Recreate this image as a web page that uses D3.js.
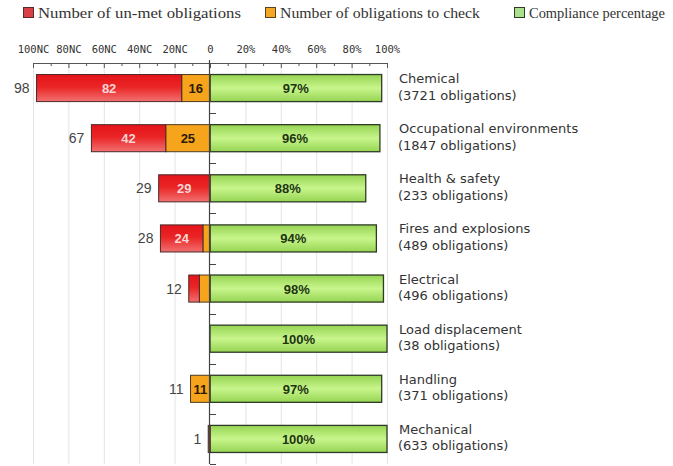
<!DOCTYPE html>
<html>
<head>
<meta charset="utf-8">
<script src="https://cdn.jsdelivr.net/npm/d3@7/dist/d3.min.js"></script>
<style>
html,body{margin:0;padding:0;background:#fff;}
svg{display:block;}
</style>
</head>
<body>
<svg id="chart" width="673" height="466"></svg>
<script>
const categories = ["Chemical", "Occupational environments", "Health & safety", "Fires and explosions", "Electrical", "Load displacement", "Handling", "Mechanical"];
const obligations = [3721, 1847, 233, 489, 496, 38, 371, 633];
const unmet = [82, 42, 29, 24, 6, 0, 0, 1];
const toCheck = [16, 25, 0, 4, 6, 0, 11, 0];
const compliance = [97, 96, 88, 94, 98, 100, 97, 100];
const tickValues = [-100, -80, -60, -40, -20, 0, 20, 40, 60, 80, 100];
const minorTicks = [-90, -70, -50, -30, -10, 10, 30, 50, 70, 90];
const legendLabels = ["Number of un-met obligations", "Number of obligations to check", "Compliance percentage"];

const svg = d3.select("#chart");
const topY = 63, bottomY = 464;

const x = d3.scaleLinear().domain([-100, 100]).range([33, 387]);
const y = d3.scaleBand().domain(categories).range([topY, bottomY]).paddingInner(0.46).paddingOuter(0.23);

const defs = svg.append("defs");
const gRed = defs.append("linearGradient").attr("id", "gRed").attr("x1", 0).attr("y1", 0).attr("x2", 0).attr("y2", 1);
gRed.append("stop").attr("offset", 0).attr("stop-color", "#e5141a");
gRed.append("stop").attr("offset", 0.45).attr("stop-color", "#ea2424");
gRed.append("stop").attr("offset", 1).attr("stop-color", "#f27070");
const gGreen = defs.append("linearGradient").attr("id", "gGreen").attr("x1", 0).attr("y1", 0).attr("x2", 0).attr("y2", 1);
gGreen.append("stop").attr("offset", 0).attr("stop-color", "#95d452");
gGreen.append("stop").attr("offset", 0.5).attr("stop-color", "#c8f58c");
gGreen.append("stop").attr("offset", 1).attr("stop-color", "#95d452");

// gridlines
svg.append("g").selectAll("line").data(tickValues.filter(d => d !== 0)).join("line")
  .attr("x1", d => x(d) + 0.5).attr("x2", d => x(d) + 0.5)
  .attr("y1", topY).attr("y2", bottomY)
  .attr("stroke", "#e4e4e4").attr("stroke-width", 1);

// top axis
const axisG = svg.append("g");
axisG.append("line").attr("x1", x(-100)).attr("x2", x(100) + 0.5).attr("y1", topY + 0.5).attr("y2", topY + 0.5)
  .attr("stroke", "#555");
axisG.selectAll("line.maj").data(tickValues).join("line").attr("class", "maj")
  .attr("x1", d => x(d) + 0.5).attr("x2", d => x(d) + 0.5)
  .attr("y1", topY).attr("y2", topY + 5).attr("stroke", "#555");
axisG.selectAll("line.min").data(minorTicks).join("line").attr("class", "min")
  .attr("x1", d => x(d) + 0.5).attr("x2", d => x(d) + 0.5)
  .attr("y1", topY).attr("y2", topY + 3).attr("stroke", "#555");
axisG.selectAll("text").data(tickValues).join("text")
  .attr("x", d => x(d) + 0.5).attr("y", 53)
  .attr("text-anchor", "middle")
  .attr("font-family", "DejaVu Sans Mono, monospace").attr("font-size", 10.5)
  .attr("fill", "#333")
  .text(d => d < 0 ? (-d) + "NC" : d === 0 ? "0" : d + "%");

const rows = categories.map((c, i) => ({
  cat: c, obl: obligations[i], unmet: unmet[i], check: toCheck[i], pct: compliance[i], total: unmet[i] + toCheck[i]
}));

const barG = svg.append("g");
// green bars
barG.selectAll("rect.green").data(rows).join("rect").attr("class", "green")
  .attr("x", x(0)).attr("y", d => y(d.cat))
  .attr("width", d => x(d.pct) - x(0)).attr("height", y.bandwidth())
  .attr("fill", "url(#gGreen)").attr("stroke", "#2f3b27").attr("stroke-width", 1.3);
// orange
barG.selectAll("rect.orange").data(rows.filter(d => d.check > 0)).join("rect").attr("class", "orange")
  .attr("x", d => x(-d.check)).attr("y", d => y(d.cat))
  .attr("width", d => x(0) - x(-d.check)).attr("height", y.bandwidth())
  .attr("fill", "#f7a41d").attr("stroke", "#4a3a20").attr("stroke-width", 1);
// red
barG.selectAll("rect.red").data(rows.filter(d => d.unmet > 0)).join("rect").attr("class", "red")
  .attr("x", d => x(-d.total)).attr("y", d => y(d.cat))
  .attr("width", d => x(-d.check) - x(-d.total)).attr("height", y.bandwidth())
  .attr("fill", "url(#gRed)").attr("stroke", "#4a2a2a").attr("stroke-width", 1);

const cy = d => y(d.cat) + y.bandwidth() / 2;
const lbl = svg.append("g").attr("font-family", "Liberation Sans, Arial, sans-serif").attr("font-size", 13);
lbl.selectAll("text.g").data(rows).join("text").attr("class", "g")
  .attr("x", d => (x(0) + x(d.pct)) / 2).attr("y", d => cy(d) + 5)
  .attr("text-anchor", "middle").attr("font-weight", "bold").attr("fill", "#1d3510")
  .text(d => d.pct + "%");
lbl.selectAll("text.o").data(rows.filter(d => x(0) - x(-d.check) > 14)).join("text").attr("class", "o")
  .attr("x", d => (x(0) + x(-d.check)) / 2).attr("y", d => cy(d) + 5)
  .attr("text-anchor", "middle").attr("font-weight", "bold").attr("fill", "#2a1a05")
  .text(d => d.check);
lbl.selectAll("text.r").data(rows.filter(d => x(-d.check) - x(-d.total) > 14)).join("text").attr("class", "r")
  .attr("x", d => (x(-d.check) + x(-d.total)) / 2).attr("y", d => cy(d) + 5)
  .attr("text-anchor", "middle").attr("font-weight", "bold").attr("fill", "#fbd6d6")
  .text(d => d.unmet);
lbl.selectAll("text.t").data(rows.filter(d => d.total > 0)).join("text").attr("class", "t")
  .attr("x", d => x(-d.total) - 7).attr("y", d => cy(d) + 5)
  .attr("text-anchor", "end").attr("fill", "#444").attr("font-size", 14)
  .text(d => d.total);

// category axis at zero
const cat = svg.append("g");
cat.append("line").attr("x1", x(0) - 0.5).attr("x2", x(0) - 0.5).attr("y1", topY - 3).attr("y2", bottomY)
  .attr("stroke", "#444").attr("stroke-width", 1.2);
cat.selectAll("line.t").data(categories).join("line").attr("class", "t")
  .attr("x1", x(0)).attr("x2", x(0) + 6)
  .attr("y1", d => Math.round(y(d) + y.bandwidth() + y.step() * y.paddingInner() / 2) + 0.5)
  .attr("y2", d => Math.round(y(d) + y.bandwidth() + y.step() * y.paddingInner() / 2) + 0.5)
  .attr("stroke", "#444");

// category labels
const cl = svg.append("g").attr("font-family", "DejaVu Sans, sans-serif").attr("font-size", 13).attr("fill", "#333");
cl.selectAll("text.c1").data(rows).join("text").attr("class", "c1")
  .attr("x", 399).attr("y", d => cy(d) - 5).text(d => d.cat);
cl.selectAll("text.c2").data(rows).join("text").attr("class", "c2")
  .attr("x", 398).attr("y", d => cy(d) + 11.5).text(d => "(" + d.obl + " obligations)");

// legend
const legColors = [["#d84048", "#5a2a2a"], ["#f5a623", "#5a4420"], ["#a8e08c", "#2f3b27"]];
const legX = [23, 265, 514];
const legW = [203, 200, 136];
const leg = svg.append("g");
legendLabels.forEach((t, i) => {
  leg.append("rect").attr("x", legX[i] + 0.5).attr("y", 7.5).attr("width", 10).attr("height", 10)
    .attr("fill", legColors[i][0]).attr("stroke", legColors[i][1]);
  leg.append("text").attr("x", legX[i] + 15).attr("y", 18)
    .attr("font-family", "Liberation Serif, serif").attr("font-size", 15).attr("fill", "#333")
    .attr("textLength", legW[i]).attr("lengthAdjust", "spacingAndGlyphs")
    .text(t);
});
</script>
</body>
</html>
